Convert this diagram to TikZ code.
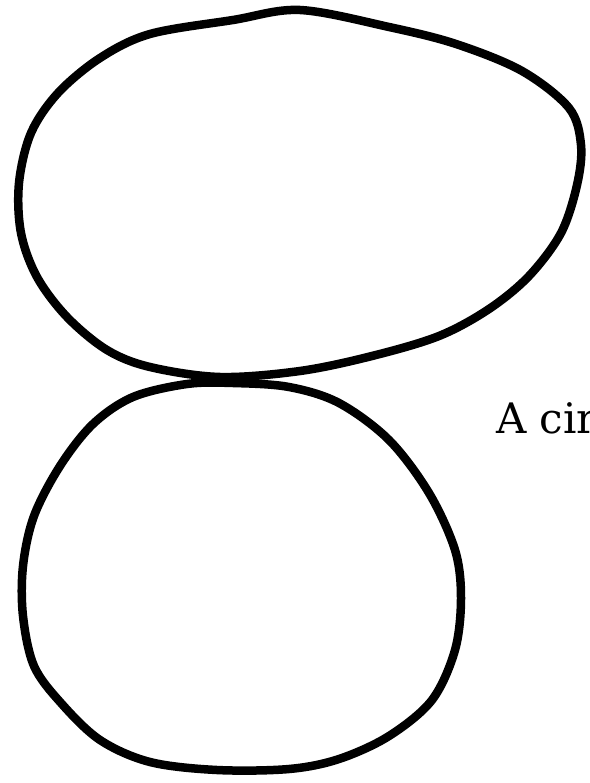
\documentclass[tikz,border=0pt]{standalone}
\usepackage{fontspec}
\newfontfamily\labelfont{DejaVu Serif}
\tikzset{
  stroke/.style={line width=8.5pt, draw=black, line join=round},
  labeltext/.style={font=\labelfont\fontsize{42}{48}\selectfont, inner sep=0pt, anchor=base west}
}
\begin{document}
\begin{tikzpicture}[x=1pt,y=-1pt]
\clip (0,0) rectangle (589,783);
\fill[white] (0,0) rectangle (589,783);
% top ellipse
\draw[stroke] plot[smooth cycle, tension=0.55] coordinates {
 (300,10) (389,27) (456,44) (522,71) (569,108) (581,145) (577,185)
 (561,233) (529,276) (489,309) (439,336) (372,356) (300,371) (220,377)
 (150,367) (107,350) (67,317) (37,277) (21,233) (19,183) (31,133)
 (58,93) (100,58) (150,34) (233,20)};
% bottom circle
\draw[stroke] plot[smooth cycle, tension=0.55] coordinates {
 (233,383) (289,387) (339,403) (389,440) (429,493) (455,550) (461,598)
 (455,650) (432,700) (389,736) (339,759) (289,769) (217,770) (150,762)
 (100,740) (61,703) (34,666) (23,616) (23,566) (34,516) (60,466)
 (93,424) (133,397) (187,384)};
\node[labeltext] (lbl) at (496,433) {A cir};
\end{tikzpicture}
\end{document}
